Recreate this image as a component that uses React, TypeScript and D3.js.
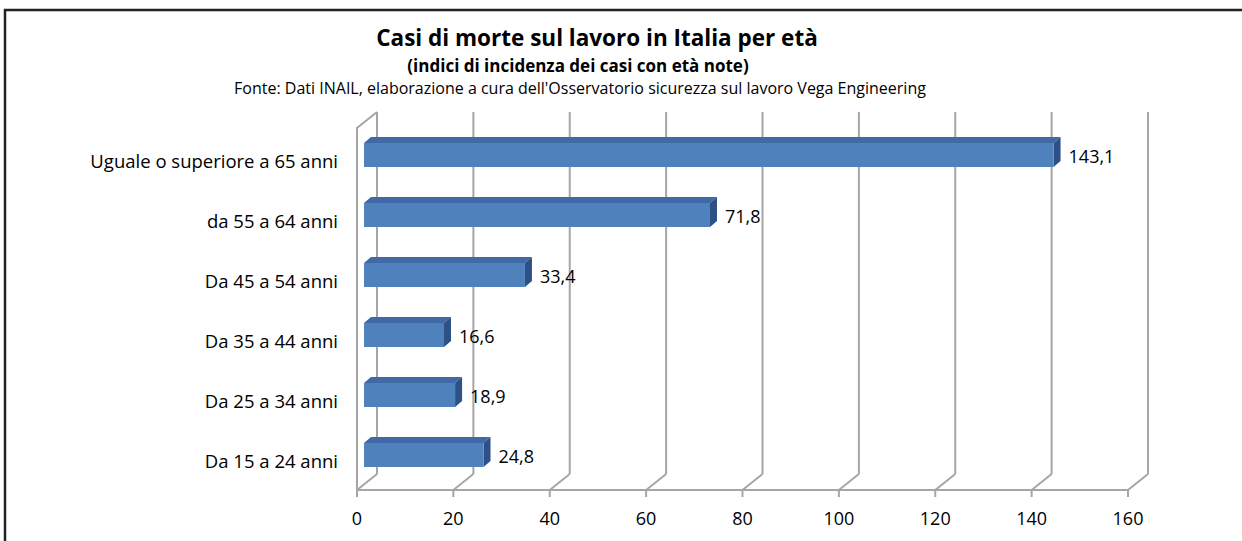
import * as d3 from "d3"

const categories = [
  "Uguale o superiore a 65 anni",
  "da 55 a 64 anni",
  "Da 45 a 54 anni",
  "Da 35 a 44 anni",
  "Da 25 a 34 anni",
  "Da 15 a 24 anni",
]
const values = [143.1, 71.8, 33.4, 16.6, 18.9, 24.8]
const ticks = [0, 20, 40, 60, 80, 100, 120, 140, 160]

const W = 1242
const H = 541
const FONT = "'Open Sans', sans-serif"

// depth of the 3d box and bar offset inside it
const DX = 20
const DY = -16
const BX = 7
const BY = -6

const fmt = (v: number) => v.toFixed(1).replace(".", ",")

export default function App() {
  const x = d3.scaleLinear().domain([0, 160]).range([357, 1128])
  const y = d3.scaleBand<string>().domain(categories).range([131, 491]).paddingInner(0.6).paddingOuter(0.3)
  const top = 128
  const floor = 490
  const grid = "#a6a6a6"

  return (
    <svg width={W} height={H} style={{ position: "absolute", left: 0, top: 0 }}>
      <rect x={0} y={0} width={W} height={H} fill="#fff" />
      <rect x={5} y={10} width={W + 10} height={H + 10} fill="none" stroke="#222" strokeWidth={2.5} />

      <text x={597} y={46} textAnchor="middle" fontFamily={FONT} fontWeight="bold" fontSize={22.5}>
        Casi di morte sul lavoro in Italia per età
      </text>
      <text x={578} y={72} textAnchor="middle" fontFamily={FONT} fontWeight="bold" fontSize={17}>
        (indici di incidenza dei casi con età note)
      </text>
      <text x={580} y={94} textAnchor="middle" fontFamily={FONT} fontSize={16}>
        Fonte: Dati INAIL, elaborazione a cura dell'Osservatorio sicurezza sul lavoro Vega Engineering
      </text>

      {/* back wall verticals */}
      {ticks.map((t) => (
        <line key={"b" + t} x1={x(t) + DX} x2={x(t) + DX} y1={top + DY} y2={floor + DY} stroke={grid} strokeWidth={2} />
      ))}
      {/* floor diagonals */}
      {ticks.map((t) => (
        <line key={"d" + t} x1={x(t)} x2={x(t) + DX} y1={floor} y2={floor + DY} stroke={grid} strokeWidth={2} />
      ))}
      {/* left wall */}
      <polyline
        points={`${x(0)},${floor} ${x(0)},${top} ${x(0) + DX},${top + DY}`}
        fill="none"
        stroke={grid}
        strokeWidth={2}
      />
      {/* floor front line and ticks */}
      <line x1={x(0)} x2={x(160)} y1={floor} y2={floor} stroke={grid} strokeWidth={2} />
      {ticks.map((t) => (
        <g key={"t" + t}>
          <line x1={x(t)} x2={x(t)} y1={floor} y2={floor + 7} stroke={grid} strokeWidth={2} />
          <text x={x(t)} y={525} textAnchor="middle" fontFamily={FONT} fontSize={18}>
            {t}
          </text>
        </g>
      ))}

      {/* bars */}
      {categories.map((c, i) => {
        const x0 = x(0) + BX
        const x1 = x(values[i]) + BX
        const y0 = (y(c) ?? 0) + BY
        const h = y.bandwidth()
        const dx = 7
        const dy = -6
        return (
          <g key={c}>
            <polygon points={`${x0},${y0} ${x0 + dx},${y0 + dy} ${x1 + dx},${y0 + dy} ${x1},${y0}`} fill="#3f6aa6" />
            <polygon points={`${x1},${y0} ${x1 + dx},${y0 + dy} ${x1 + dx},${y0 + h + dy} ${x1},${y0 + h}`} fill="#2d5087" />
            <rect x={x0} y={y0} width={x1 - x0} height={h} fill="#4f81bd" />
            <text x={x1 + dx + 8} y={y0 + h / 2 + 8} fontFamily={FONT} fontSize={18}>
              {fmt(values[i])}
            </text>
            <text x={338} y={(y(c) ?? 0) + h / 2 + 7} textAnchor="end" fontFamily={FONT} fontSize={18.5}>
              {c}
            </text>
          </g>
        )
      })}
    </svg>
  )
}
